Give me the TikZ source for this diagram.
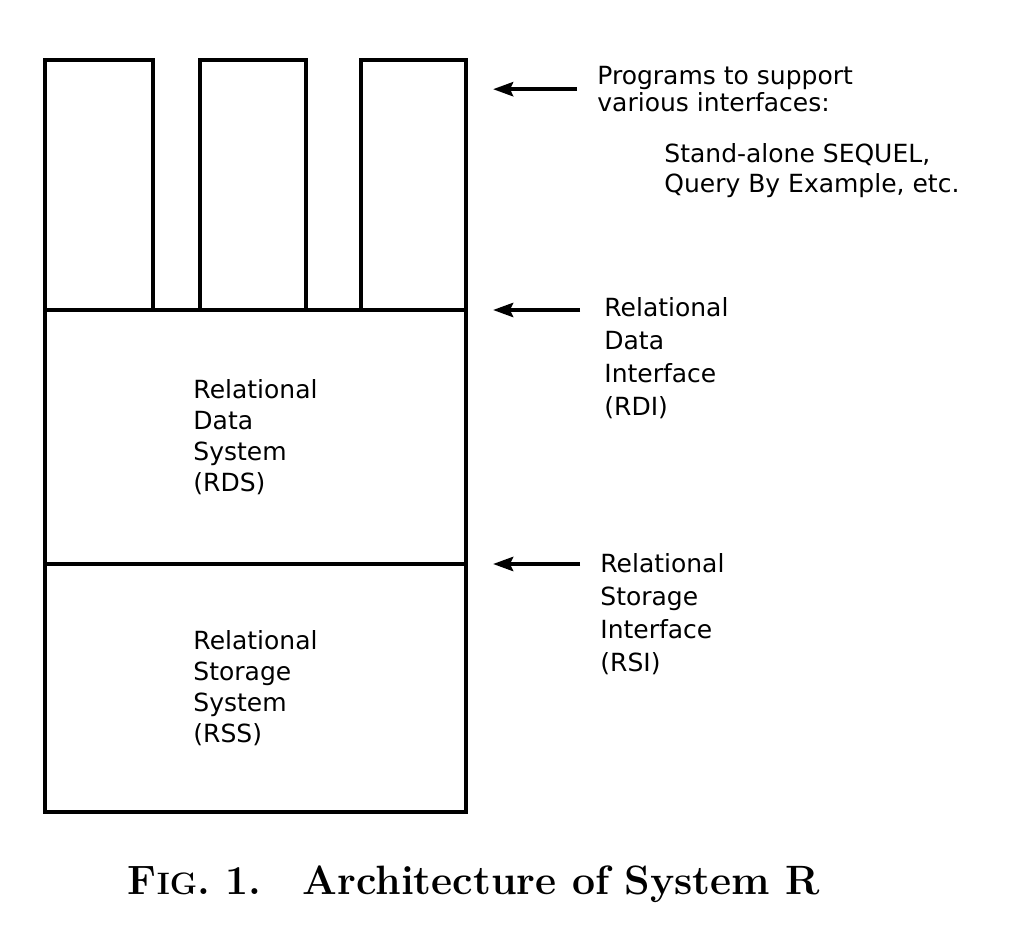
\documentclass[tikz,border=0pt]{standalone}
\usepackage{fontspec}
\newfontfamily\labelfont{DejaVu Sans}
\usetikzlibrary{arrows.meta}

\begin{document}
\begin{tikzpicture}[x=0.5pt,y=0.5pt,
        box/.style={draw,line width=1.7pt,outer sep=0pt,inner sep=0pt,
            anchor=south west,align=left,
            font=\labelfont\fontsize{12.5}{15.5}\selectfont},
        note/.style={anchor=north west,inner sep=0pt,align=left,
            font=\labelfont\fontsize{12.5}{#1}\selectfont},
        note/.default=16.5pt,
        arr/.style={-{Stealth[length=10pt,width=7pt,inset=1.5pt]},line width=2pt}
    ]
    \useasboundingbox (0,0) rectangle (1026,938);
    \node[box,minimum width=210.5pt,minimum height=124pt](rss) at (45,126)
        {Relational\\Storage\\System\\(RSS)};
    \node[box,minimum width=210.5pt,minimum height=127pt](rds) at (rss.north west)
        {Relational\\Data\\System\\(RDS)};
    \node[box,minimum width=54pt,minimum height=125pt](prog1) at (rds.north west) {};
    \node[box,minimum width=53pt,minimum height=125pt](prog2)
        at ([xshift=23.5pt]prog1.south east) {};
    \node[box,minimum width=52.5pt,minimum height=125pt](prog3)
        at ([xshift=27.5pt]prog2.south east) {};

    \node[note=13.5pt](prog) at (597,872) {Programs to support\\various interfaces:};
    \node[note=15pt](sequel) at (664,795) {Stand-alone SEQUEL,\\Query By Example, etc.};
    \node[note](rdi) at (604,641) {Relational\\Data\\Interface\\(RDI)};
    \node[note](rsi) at (600,385) {Relational\\Storage\\Interface\\(RSI)};

    \draw[arr]([xshift=-10pt]prog.west)--([xshift=13.5pt]prog3.east |- prog.west);
    \draw[arr]([xshift=-12pt]rdi.north west |- rds.north)--([xshift=13.5pt]rds.north east);
    \draw[arr]([xshift=-10pt]rsi.north west |- rss.north)--([xshift=13.5pt]rss.north east);

    \node[font=\bfseries\fontsize{20.5}{24}\selectfont](caption) at (474,54)
        {F{\fontsize{15.5}{18}\selectfont IG}. 1.\quad Architecture of System R};
\end{tikzpicture}
\end{document}
